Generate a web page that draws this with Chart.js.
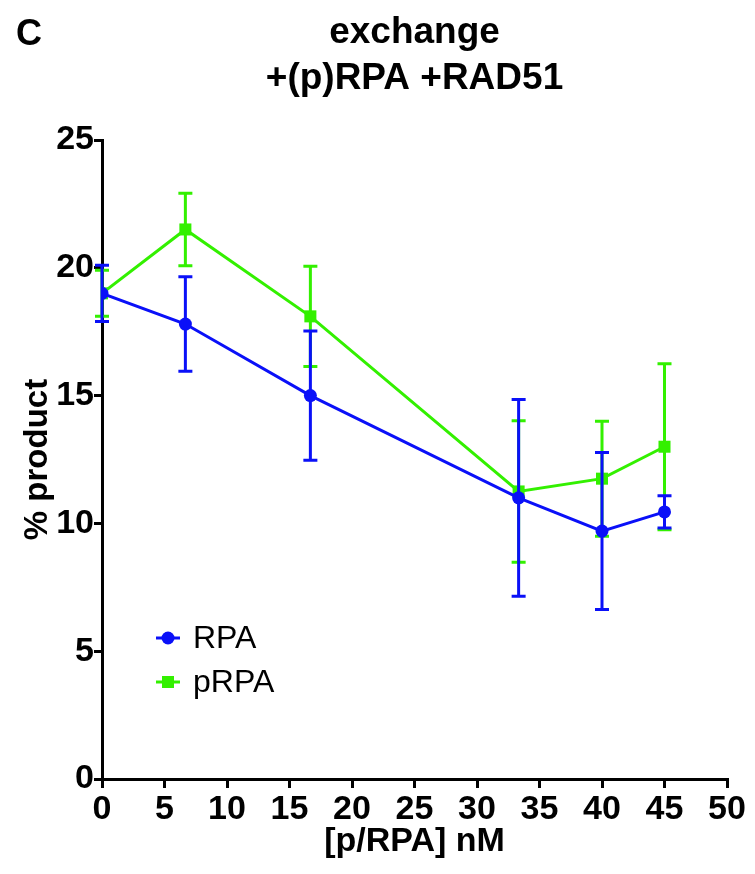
<!DOCTYPE html>
<html>
<head>
<meta charset="utf-8">
<script src="https://cdn.jsdelivr.net/npm/chart.js@4.4.1/dist/chart.umd.min.js"></script>
<style>
  html, body { margin: 0; padding: 0; background: #fff; }
  #wrap { width: 755px; height: 874px; position: relative; }
</style>
</head>
<body>
<div id="wrap"><canvas id="c" width="755" height="874"></canvas></div>
<script>
// ---- data ----
const concentrations = [0, 6.67, 16.67, 33.33, 40, 45];
const rpaMean  = [19.0, 17.8, 15.0, 11.0, 9.7, 10.45];
const rpaErr   = [1.1, 1.85, 2.53, 3.85, 3.07, 0.63];
const prpaMean = [19.0, 21.5, 18.1, 11.25, 11.75, 13.0];
const prpaErr  = [0.9, 1.42, 1.96, 2.77, 2.25, 3.25];
const seriesNames = ['RPA', 'pRPA'];
const xTicks = [0, 5, 10, 15, 20, 25, 30, 35, 40, 45, 50];
const yTicks = [0, 5, 10, 15, 20, 25];
const titleLines = ['exchange', '+(p)RPA +RAD51'];
const panelLabel = 'C';
const xTitle = '[p/RPA] nM';
const yTitle = '% product';

const BLUE = '#0a10f8';
const GREEN = '#33f000';
const FONT = '"Liberation Sans", Arial, Helvetica, sans-serif';

const errors = [rpaErr, prpaErr];

const errorBarPlugin = {
  id: 'errorBars',
  afterDatasetDraw(chart, args) {
    const idx = args.index;
    const ds = chart.data.datasets[idx];
    const err = errors[idx];
    const xs = chart.scales.x, ys = chart.scales.y;
    const ctx = chart.ctx;
    ctx.save();
    ctx.strokeStyle = ds.borderColor;
    ctx.lineWidth = 3;
    ds.data.forEach((p, i) => {
      const px = xs.getPixelForValue(p.x);
      const top = ys.getPixelForValue(p.y + err[i]);
      const bot = ys.getPixelForValue(p.y - err[i]);
      ctx.beginPath();
      ctx.moveTo(px, top); ctx.lineTo(px, bot);
      ctx.moveTo(px - 7, top); ctx.lineTo(px + 7, top);
      ctx.moveTo(px - 7, bot); ctx.lineTo(px + 7, bot);
      ctx.stroke();
    });
    ctx.restore();
  }
};

const textPlugin = {
  id: 'texts',
  afterDraw(chart) {
    const ctx = chart.ctx;
    const ca = chart.chartArea;
    const cx = (ca.left + ca.right) / 2;
    ctx.save();
    ctx.fillStyle = '#000';
    ctx.textAlign = 'left';
    ctx.textBaseline = 'alphabetic';
    ctx.font = 'bold 36px ' + FONT;
    ctx.fillText(panelLabel, 16, 45);
    ctx.textAlign = 'center';
    ctx.font = 'bold 37px ' + FONT;
    ctx.fillText(titleLines[0], cx, 43);
    ctx.fillText(titleLines[1], cx, 89);
    // legend
    const items = chart.data.datasets;
    const ly = [638, 682];
    items.forEach((ds, i) => {
      const y = ly[i];
      ctx.strokeStyle = ds.borderColor;
      ctx.fillStyle = ds.borderColor;
      ctx.lineWidth = 3;
      ctx.beginPath();
      ctx.moveTo(156, y); ctx.lineTo(180, y);
      ctx.stroke();
      if (ds.pointStyle === 'rect') {
        ctx.fillRect(162, y - 6, 12, 12);
      } else {
        ctx.beginPath();
        ctx.arc(168, y, 6.5, 0, Math.PI * 2);
        ctx.fill();
      }
      ctx.fillStyle = '#000';
      ctx.textAlign = 'left';
      ctx.textBaseline = 'middle';
      ctx.font = '32px ' + FONT;
      ctx.fillText(ds.label, 193, y + 1);
    });
    ctx.restore();
  }
};

const toPoints = (ys) => concentrations.map((x, i) => ({ x, y: ys[i] }));

new Chart(document.getElementById('c'), {
  type: 'line',
  data: {
    datasets: [
      {
        label: seriesNames[0],
        data: toPoints(rpaMean),
        borderColor: BLUE,
        backgroundColor: BLUE,
        borderWidth: 3,
        pointStyle: 'circle',
        pointRadius: 6.5,
        pointBorderWidth: 0,
        tension: 0
      },
      {
        label: seriesNames[1],
        data: toPoints(prpaMean),
        borderColor: GREEN,
        backgroundColor: GREEN,
        borderWidth: 3,
        pointStyle: 'rect',
        pointRadius: 8.5,
        pointBorderWidth: 0,
        tension: 0
      }
    ]
  },
  options: {
    responsive: false,
    animation: false,
    devicePixelRatio: 1,
    layout: { padding: { top: 140, right: 28, bottom: 12, left: 0 } },
    plugins: { legend: { display: false }, title: { display: false }, tooltip: { enabled: false } },
    scales: {
      x: {
        type: 'linear', min: 0, max: 50,
        afterFit(s) { s.height = 83; },
        afterBuildTicks(s) { s.ticks = xTicks.map(v => ({ value: v })); },
        ticks: { color: '#000', font: { family: FONT, size: 34, weight: 'bold' }, padding: 1, maxRotation: 0, autoSkip: false },
        grid: { display: true, drawOnChartArea: false, color: '#000', lineWidth: 3, tickLength: 9 },
        border: { display: true, color: '#000', width: 3 },
        title: { display: true, text: xTitle, color: '#000', font: { family: FONT, size: 34, weight: 'bold' }, padding: { top: 0, bottom: 0 } }
      },
      y: {
        type: 'linear', min: 0, max: 25,
        afterFit(s) { s.width = 102; },
        afterBuildTicks(s) { s.ticks = yTicks.map(v => ({ value: v })); },
        ticks: { color: '#000', font: { family: FONT, size: 34, weight: 'bold' }, padding: 0, autoSkip: false },
        grid: { display: true, drawOnChartArea: false, color: '#000', lineWidth: 3, tickLength: 8 },
        border: { display: true, color: '#000', width: 3 },
        title: { display: true, text: yTitle, color: '#000', font: { family: FONT, size: 33, weight: 'bold' }, padding: { top: 18, bottom: 0 } }
      }
    }
  },
  plugins: [errorBarPlugin, textPlugin]
});
</script>
</body>
</html>
